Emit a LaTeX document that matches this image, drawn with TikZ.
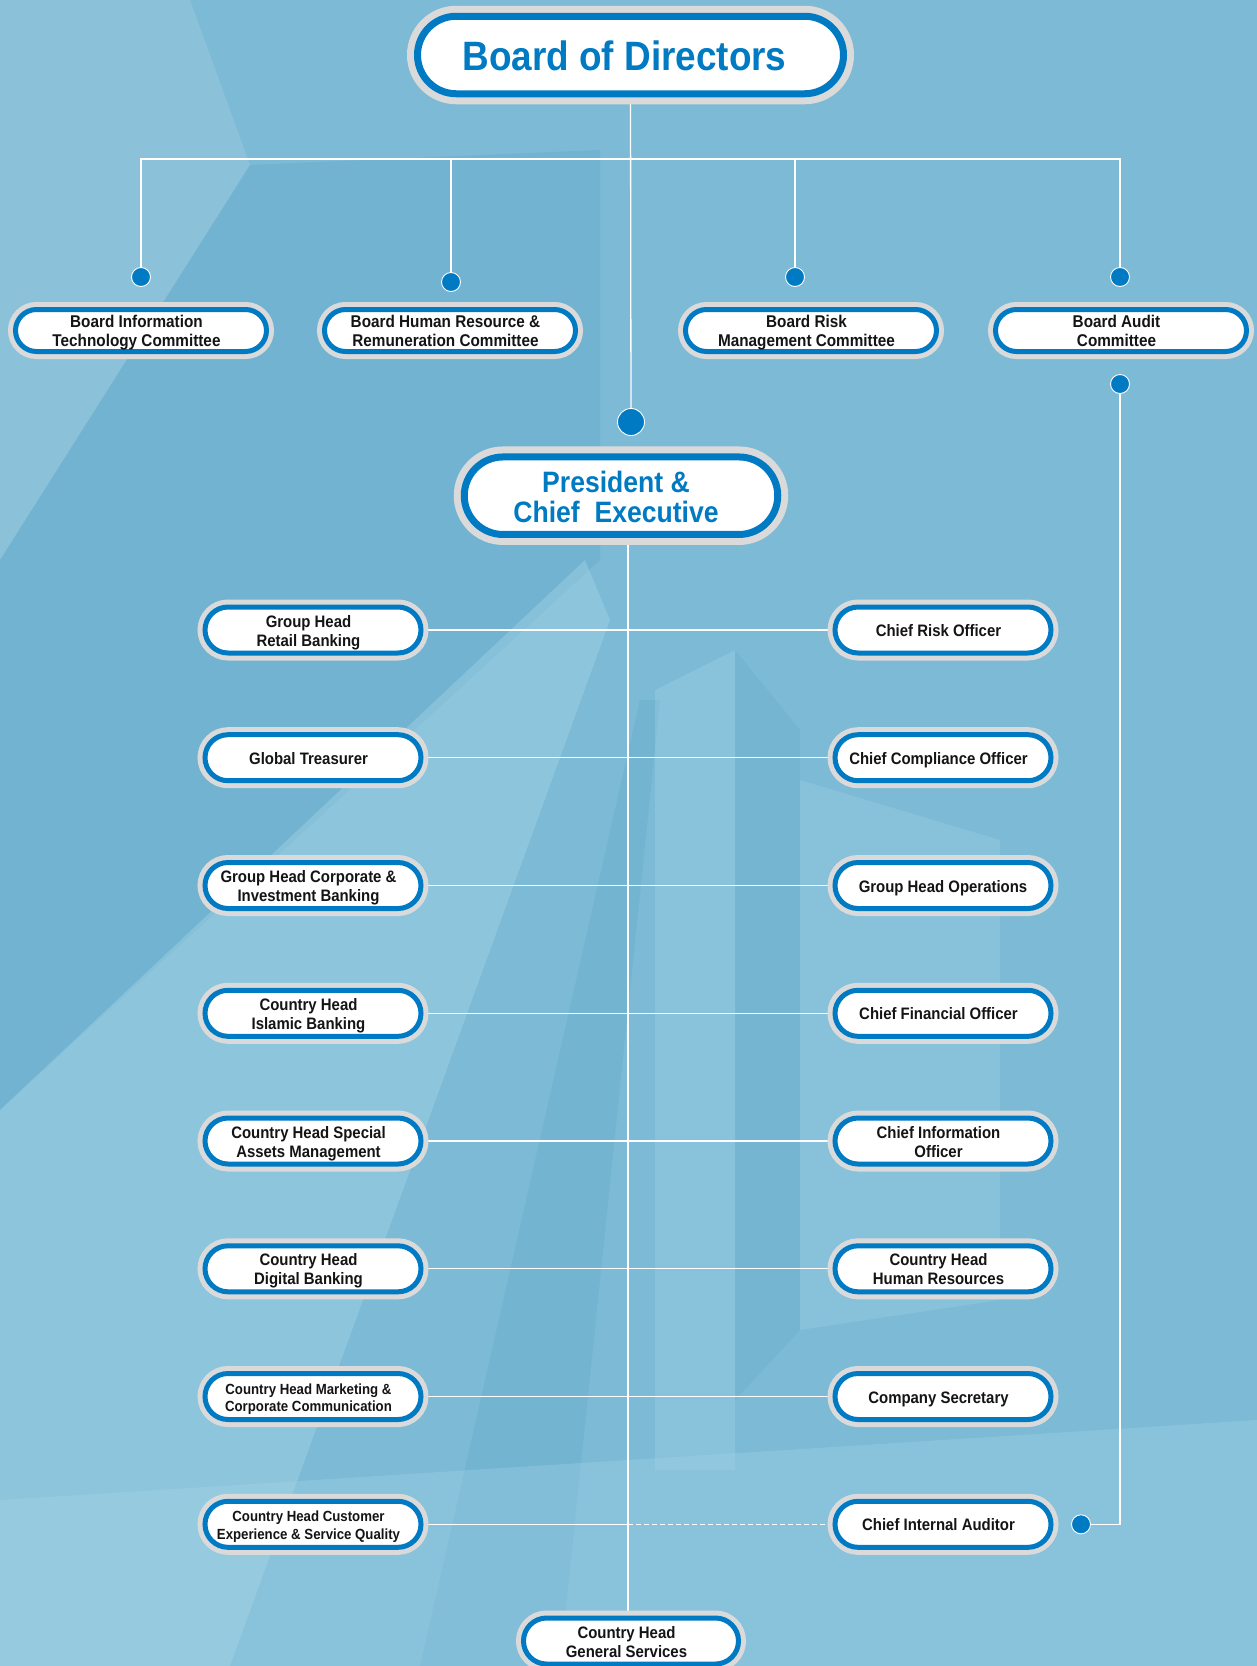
\documentclass[tikz,border=0pt]{standalone}
\usepackage{fontspec}
\setmainfont[FakeStretch=0.9]{Liberation Sans}
\usetikzlibrary{shapes.misc}
\definecolor{brandblue}{RGB}{0,122,195}
\definecolor{ringgrey}{RGB}{218,218,218}
\definecolor{bgblue}{RGB}{124,186,213}
\definecolor{bgdark}{RGB}{90,163,198}
\definecolor{bglight}{RGB}{170,215,233}
\definecolor{txt}{RGB}{20,20,20}
\def\ntdrop{2.8pt}
\newcommand\nt[2][9pt]{\raisebox{-\ntdrop}[\height][\depth]{\begin{tabular}{@{}c@{}}#2\end{tabular}}\kern#1}
\pgfdeclarelayer{bg}
\pgfdeclarelayer{edges}
\pgfsetlayers{bg,edges,main}
\tikzset{
  pill/.style={rounded rectangle, fill=white, draw=brandblue, line width=5pt,
    preaction={draw=ringgrey, line width=15pt},
    inner sep=0pt, outer sep=0pt, text=txt,
    font=\fontsize{16.6}{19}\selectfont\bfseries},
  rowpill/.style={pill, minimum width=216pt, minimum height=46pt},
  smalltext/.style={font=\fontsize{14.7}{17.5}\selectfont\bfseries},
  compill/.style={pill, minimum width=251pt, minimum height=42pt,
    font=\fontsize{17}{19}\selectfont\bfseries},
  bigpill/.style={pill, line width=7pt, preaction={draw=ringgrey, line width=21pt},
    minimum height=77.5pt, text=brandblue},
  dot/.style={circle, fill=brandblue, draw=white, line width=0.9pt, minimum size=19pt, inner sep=0pt},
  bigdot/.style={dot, minimum size=27pt},
  conn/.style={draw=white, line width=1.3pt},
}
\begin{document}
\begin{tikzpicture}[x=1pt,y=-1pt]
\useasboundingbox (0,0) rectangle (1257,1666);
\begin{pgfonlayer}{bg}
  \fill[bgblue] (0,0) rectangle (1257,1666);
  \fill[white,opacity=0.12] (0,0) -- (190,0) -- (250,165) -- (0,560) -- cycle;
  \fill[bgdark,opacity=0.3] (250,165) -- (600,150) -- (600,560) -- (0,1110) -- (0,560) -- cycle;
  \fill[bglight,opacity=0.38] (0,1110) -- (585,560) -- (610,620) -- (230,1666) -- (0,1666) -- cycle;
  \fill[bgdark,opacity=0.25] (420,1666) -- (640,700) -- (660,700) -- (560,1666) -- cycle;
  \fill[bglight,opacity=0.3] (655,690) -- (735,650) -- (735,1470) -- (655,1470) -- cycle;
  \fill[bgdark,opacity=0.2] (735,650) -- (800,730) -- (800,1330) -- (735,1400) -- cycle;
  \fill[bglight,opacity=0.25] (800,780) -- (1000,840) -- (1000,1300) -- (800,1330) -- cycle;
  \fill[bglight,opacity=0.3] (0,1500) -- (1257,1420) -- (1257,1666) -- (0,1666) -- cycle;
\end{pgfonlayer}

% top level
\node[bigpill, minimum width=426pt, font=\fontsize{41}{44}\selectfont\bfseries] (bod) at (630.5,55) {\def\ntdrop{6.5pt}\nt[12pt]{Board of Directors}};
\coordinate (bus) at (631,159);

% committees
\node[compill] (bit) at (141,330.5) {\nt{Board Information\\Technology Committee}};
\node[compill] (bhr) at (450,330.5) {\nt{Board Human Resource \&\\Remuneration Committee}};
\node[compill] (brm) at (811,330.5) {\nt{Board Risk\\Management Committee}};
\node[compill] (bac) at (1121,330.5) {\nt{Board Audit\\Committee}};
\node[dot] (bitdot) at (141,277) {};
\node[dot] (bhrdot) at (451,282) {};
\node[dot] (brmdot) at (795,277) {};
\node[dot] (bacdot) at (1120,277) {};
\node[dot] (bacdown) at (1120,384) {};

% president
\node[bigdot] (pcedot) at (631,422) {};
\node[bigpill, minimum width=313.5pt, font=\fontsize{29.5}{28}\selectfont\bfseries] (pce) at (621,495.7) {\def\ntdrop{5.5pt}\nt[10pt]{President \&\\Chief~~Executive}};
\coordinate (spine) at (628,545);

% rows
\node[rowpill] (l1) at (313,630) {\nt{Group Head\\Retail Banking}};
\node[rowpill] (l2) at (313,757.7) {\nt{Global Treasurer}};
\node[rowpill] (l3) at (313,885.5) {\nt{Group Head Corporate \&\\Investment Banking}};
\node[rowpill] (l4) at (313,1013.3) {\nt{Country Head\\Islamic Banking}};
\node[rowpill] (l5) at (313,1141) {\nt{Country Head Special\\Assets Management}};
\node[rowpill] (l6) at (313,1268.8) {\nt{Country Head\\Digital Banking}};
\node[rowpill, smalltext] (l7) at (313,1396.5) {\nt{Country Head Marketing \&\\Corporate Communication}};
\node[rowpill, smalltext] (l8) at (313,1524.3) {\nt{Country Head Customer\\Experience \& Service Quality}};

\node[rowpill] (r1) at (943,630) {\nt{Chief Risk Officer}};
\node[rowpill] (r2) at (943,757.7) {\nt{Chief Compliance Officer}};
\node[rowpill] (r3) at (943,885.5) {\nt[0pt]{Group Head Operations}};
\node[rowpill] (r4) at (943,1013.3) {\nt{Chief Financial Officer}};
\node[rowpill] (r5) at (943,1141) {\nt{Chief Information\\Officer}};
\node[rowpill] (r6) at (943,1268.8) {\nt{Country Head\\Human Resources}};
\node[rowpill] (r7) at (943,1396.5) {\nt{Company Secretary}};
\node[rowpill] (r8) at (943,1524.3) {\nt{Chief Internal Auditor}};
\node[dot] (r8dot) at (1081,1524.3) {};

\node[rowpill, minimum width=215pt] (gs) at (631,1641) {\nt{Country Head\\General Services}};

\begin{pgfonlayer}{edges}
  \draw[conn] (bod.south) -- (pcedot.center);
  \draw[conn] (bitdot.center) |- (bus) -| (bacdot.center);
  \draw[conn] (bhrdot.center) |- (bus);
  \draw[conn] (brmdot.center) |- (bus);
  \draw[conn] (bacdown.center) |- (r8dot.center);
  \draw[conn] (spine) -- (spine |- gs.north);
  \foreach \i in {1,...,7} { \draw[conn] (l\i.east) -- (r\i.west); }
  \draw[conn] (l8.east) -- (spine |- l8.east);
  \draw[conn, dash pattern=on 5pt off 3pt] (spine |- l8.east) -- (r8.west);
\end{pgfonlayer}
\end{tikzpicture}
\end{document}
